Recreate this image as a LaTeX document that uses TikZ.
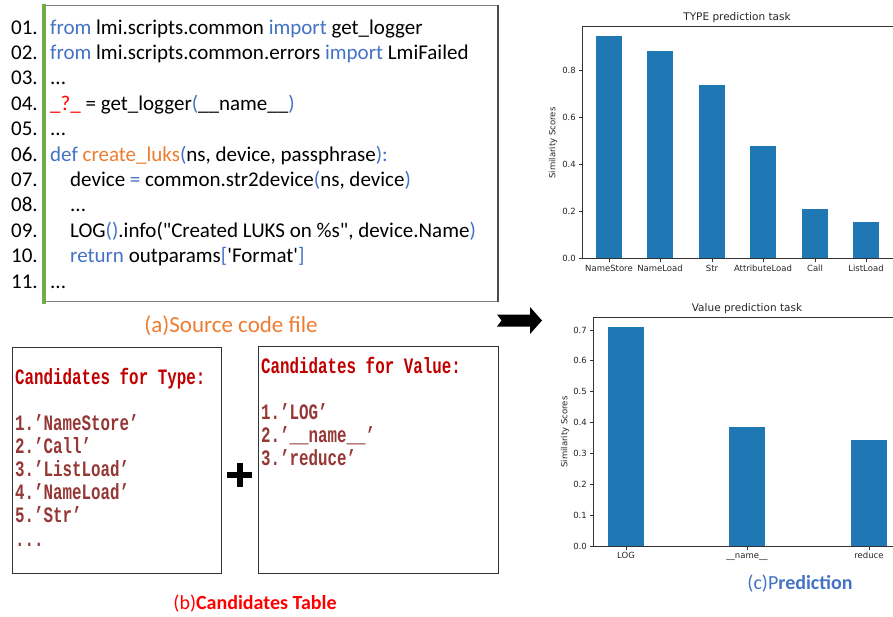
\documentclass[tikz,border=0pt]{standalone}
\usepackage{fontspec}
\setmainfont{Carlito}
\newfontfamily\codefont{Carlito}[Ligatures=TeXOff]
\newfontfamily\candfont{Liberation Mono}[FakeStretch=0.72]
\newfontfamily\mplfont{DejaVu Sans}
\definecolor{kwblue}{HTML}{4472C4}
\definecolor{fnorange}{HTML}{ED7D31}
\definecolor{qred}{HTML}{FF0000}
\definecolor{bargreen}{HTML}{70AD47}
\definecolor{boxgray}{HTML}{7F7F7F}
\definecolor{candtitle}{HTML}{C00000}
\definecolor{canditem}{HTML}{953735}
\definecolor{barblue}{HTML}{1F77B4}
\definecolor{axgray}{HTML}{333333}
\definecolor{capred}{HTML}{FF0000}
\newcommand\kw[1]{\textcolor{kwblue}{#1}}
\tikzset{
  codeline/.style={anchor=base west, inner sep=0pt, font=\codefont\fontsize{21}{25}\selectfont},
  lineno/.style={anchor=base west, inner sep=0pt, font=\codefont\fontsize{21}{25}\selectfont},
  candtitle/.style={anchor=base west, inner sep=0pt, text=candtitle, font=\candfont\bfseries\fontsize{22}{24}\selectfont},
  canditem/.style={anchor=base west, inner sep=0pt, text=canditem, font=\candfont\bfseries\fontsize{22}{24}\selectfont},
  candbox/.style={draw=black!80, line width=1pt, anchor=north west, inner sep=0pt},
  caption/.style={anchor=base, inner sep=0pt, font=\fontsize{20}{22}\selectfont},
  axisline/.style={draw=axgray, line width=0.8pt},
  ticklab/.style={inner sep=0pt, font=\mplfont\fontsize{8.5}{9}\selectfont, text=black!85},
  charttitle/.style={inner sep=0pt, anchor=base, font=\mplfont\fontsize{10.5}{11}\selectfont, text=black!85},
}
\begin{document}
\begin{tikzpicture}[x=1pt,y=-1pt]
\useasboundingbox[fill=white] (0,0) rectangle (893,616);

% ---------- code box ----------
\node[draw=boxgray, line width=1pt, anchor=north west, minimum width=453pt, minimum height=296pt, inner sep=0pt] (codebox) at (44,5) {};
\draw[black!70, line width=1.5pt] (codebox.north east) -- (codebox.south east);
\draw[bargreen, line width=3.2pt] ([yshift=1pt]codebox.north west) -- ([yshift=-2pt]codebox.south west);

\foreach \i/\n in {1/01.,2/02.,3/03.,4/04.,5/05.,6/06.,7/07.,8/08.,9/09.,10/10.,11/11.}
  \node[lineno] (n\i) at (11,{34+25.4*(\i-1)}) {\n};

\node[codeline] (c1) at (50,34) {\kw{from} lmi.scripts.common \kw{import} get\_logger};
\node[codeline] (c2) at (50,59.4) {\kw{from} lmi.scripts.common.errors \kw{import} LmiFailed};
\node[codeline] (c3) at (50,84.8) {...};
\node[codeline] (c4) at (50,110.2) {\textcolor{qred}{\_?\_} = get\_logger\kw{(}\_\_name\_\_\kw{)}};
\node[codeline] (c5) at (50,135.6) {...};
\node[codeline] (c6) at (50,161) {\kw{def} \textcolor{fnorange}{create\_luks}\kw{(}ns, device, passphrase\kw{):}};
\node[codeline] (c7) at (70,186.4) {device \kw{=} common.str2device\kw{(}ns, device\kw{)}};
\node[codeline] (c8) at (70,211.8) {...};
\node[codeline] (c9) at (70,237.2) {LOG\kw{()}.info("Created LUKS on \%s", device.Name\kw{)}};
\node[codeline] (c10) at (70,262.6) {\kw{return} outparams\kw{[}'Format'\kw{]}};
\node[codeline] (c11) at (50,288) {...};

\node[caption, text=fnorange, font=\fontsize{23}{25}\selectfont] (capa) at (231,332) {(a)Source code file};

% ---------- candidates ----------
\node[candbox, minimum width=209pt, minimum height=226pt] (typebox) at (12,347) {};
\node[candbox, minimum width=240pt, minimum height=227pt] (valbox) at (258,346) {};

\node[candtitle] (tt) at (15,384) {Candidates for Type:};
\node[canditem] (t1) at (15,430) {1.’NameStore’};
\node[canditem] (t2) at (15,453) {2.’Call’};
\node[canditem] (t3) at (15,476) {3.’ListLoad’};
\node[canditem] (t4) at (15,499) {4.’NameLoad’};
\node[canditem] (t5) at (15,522) {5.’Str’};
\node[canditem] (t6) at (15,546) {...};

\node[candtitle] (vt) at (261,373) {Candidates for Value:};
\node[canditem] (v1) at (261,419) {1.’LOG’};
\node[canditem] (v2) at (261,442) {2.’\_\_name\_\_’};
\node[canditem] (v3) at (261,465) {3.’reduce’};

% plus sign
\fill[black] (227,472) rectangle (252,478);
\fill[black] (236.5,463) rectangle (242.5,487);

\node[caption, text=capred] (capb) at (255,609) {(b)\textbf{Candidates Table}};

% ---------- arrow ----------
\fill[black] (497,314.5) -- (530,314.5) -- (530,307) -- (542,320.5) -- (530,334) -- (530,326.5) -- (497,326.5) -- (501.5,320.5) -- cycle;

% ---------- TYPE chart ----------
\node[charttitle] (t-title) at (737,20) {TYPE prediction task};
\foreach \c/\h/\lab in {609/0.945/NameStore,660/0.882/NameLoad,712/0.736/Str,763/0.477/AttributeLoad,815/0.21/Call,866/0.155/ListLoad}{
  \fill[barblue] ({\c-13},258) rectangle ({\c+13},{258-235*\h});
  \draw[axgray, line width=0.8pt] (\c,258) -- (\c,261.5);
  \node[ticklab, anchor=base] at (\c,271.5) {\lab};
}
\draw[axisline] (893,26) -- (582,26) -- (582,258) -- (893,258);
\foreach \v/\l in {0/0.0,0.2/0.2,0.4/0.4,0.6/0.6,0.8/0.8}{
  \draw[axgray, line width=0.8pt] (582,{258-235*\v}) -- (578.5,{258-235*\v});
  \node[ticklab, anchor=east] at (576,{258-235*\v}) {\l};
}
\node[ticklab, rotate=90] (t-ylab) at (553,143) {Similarity Scores};

% ---------- Value chart ----------
\node[charttitle] (v-title) at (747,311) {Value prediction task};
\foreach \c/\h/\lab in {626/0.71/LOG,747/0.385/\_\_name\_\_,869/0.342/reduce}{
  \fill[barblue] ({\c-18},546) rectangle ({\c+18},{546-308.6*\h});
  \draw[axgray, line width=0.8pt] (\c,546) -- (\c,549.5);
  \node[ticklab, anchor=base] at (\c,558.5) {\lab};
}
\draw[axisline] (893,317) -- (593,317) -- (593,546) -- (893,546);
\foreach \v/\l in {0/0.0,0.1/0.1,0.2/0.2,0.3/0.3,0.4/0.4,0.5/0.5,0.6/0.6,0.7/0.7}{
  \draw[axgray, line width=0.8pt] (593,{546-308.6*\v}) -- (589.5,{546-308.6*\v});
  \node[ticklab, anchor=east] at (587,{546-308.6*\v}) {\l};
}
\node[ticklab, rotate=90] (v-ylab) at (565,432) {Similarity Scores};

\node[caption, text=kwblue] (capc) at (800,589) {(c)P\textbf{rediction}};
\end{tikzpicture}
\end{document}
